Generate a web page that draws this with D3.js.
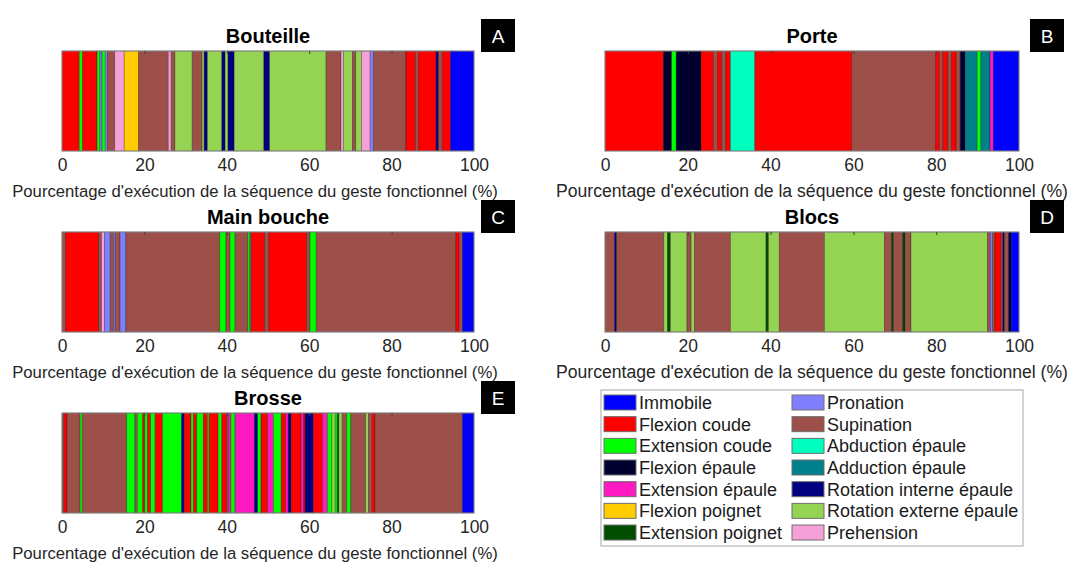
<!DOCTYPE html>
<html>
<head>
<meta charset="utf-8">
<script src="https://cdn.jsdelivr.net/npm/d3@7"></script>
<style>
  body { margin: 0; background: #fff; }
  text { font-family: "Liberation Sans", Arial, sans-serif; }
</style>
</head>
<body>
<div id="chart"></div>
<script>
// movement categories (legend order) and their colours
const categories = ["Immobile", "Flexion coude", "Extension coude", "Flexion épaule", "Extension épaule",
  "Flexion poignet", "Extension poignet", "Pronation", "Supination", "Abduction épaule",
  "Adduction épaule", "Rotation interne épaule", "Rotation externe épaule", "Prehension"];
const catColors = ["#0000ff", "#ff0000", "#00ff00", "#00002e", "#ff19c0",
  "#ffcc00", "#004d00", "#8080ff", "#9c5049", "#00ffbf",
  "#00808a", "#000080", "#95d352", "#f5a0d9"];

const tickValues = [0, 20, 40, 60, 80, 100];

// each sequence: [category index, end of segment in %]
const bouteille = [[1,4.2],[2,5.0],[1,8.5],[2,9.2],[7,9.7],[2,10.5],[7,11.0],[8,12.8],[13,15.1],[5,18.6],
  [8,25.8],[13,26.5],[8,27.4],[12,31.6],[8,34.0],[12,34.5],[11,35.3],[12,38.8],[11,39.6],[12,40.3],
  [11,41.8],[12,49.0],[11,50.4],[12,64.1],[8,67.7],[13,68.3],[12,70.5],[8,71.3],[12,72.7],[13,74.8],
  [7,75.6],[8,83.5],[1,85.8],[8,86.5],[1,90.8],[11,91.4],[8,92.3],[1,94.3],[0,100]];

const porte = [[1,14.1],[3,16.1],[2,17.2],[3,23.2],[1,26.2],[8,27.2],[1,28.2],[8,29.2],[1,30.3],[9,36.2],
  [1,59.6],[8,79.8],[1,80.8],[8,81.6],[1,82.8],[8,83.7],[1,84.8],[8,85.8],[3,87.0],[10,89.9],
  [2,90.8],[10,93.0],[4,93.8],[0,100]];

const mainBouche = [[8,0.9],[1,8.9],[8,9.6],[13,10.3],[7,11.7],[8,12.5],[7,12.9],[8,14.1],[7,15.5],[8,38.3],
  [2,39.8],[8,40.8],[2,42.0],[8,45.1],[2,45.6],[8,46.0],[1,49.2],[8,50.2],[1,59.4],[8,60.2],
  [2,61.7],[8,95.6],[1,96.4],[8,97.2],[0,100]];

const blocs = [[8,2.3],[11,2.8],[8,14.2],[12,15.1],[6,15.8],[12,19.8],[8,20.8],[12,21.6],[8,30.3],[12,38.9],
  [6,39.5],[12,42.1],[8,53.0],[12,67.5],[8,69.2],[6,69.7],[8,71.9],[6,72.5],[8,73.9],[12,92.4],
  [8,93.1],[7,93.6],[8,94.2],[1,95.7],[8,96.1],[11,96.5],[8,97.5],[3,98.1],[0,100]];

const brosse = [[8,0.5],[1,1.2],[8,4.4],[2,4.9],[8,15.7],[2,17.7],[8,18.3],[2,19.6],[1,20.1],[2,20.8],
  [1,21.5],[2,22.6],[1,24.4],[2,29.0],[11,29.7],[1,31.3],[2,31.9],[1,32.7],[2,34.3],[1,35.3],
  [2,35.7],[1,37.9],[2,38.8],[1,40.0],[8,40.4],[4,41.0],[2,42.0],[4,46.7],[11,47.5],[2,48.3],
  [1,49.9],[4,51.3],[2,53.2],[1,54.3],[4,54.9],[11,55.6],[1,58.0],[4,58.6],[1,59.0],[11,61.0],
  [1,63.2],[4,64.4],[2,65.5],[12,66.3],[2,66.8],[6,67.2],[12,68.0],[8,69.1],[2,70.1],[8,73.7],
  [12,74.4],[8,75.3],[1,76.0],[8,97.2],[0,100]];

const panels = [
  {title: "Bouteille",   letter: "A", seq: bouteille,  x0: 62,  x1: 474,  top: 51,  labelX: 255, labelSize: 16.7, boxX: 481},
  {title: "Porte",       letter: "B", seq: porte,      x0: 605, x1: 1019, top: 51,  labelX: 812, labelSize: 17.6, boxX: 1030},
  {title: "Main bouche", letter: "C", seq: mainBouche, x0: 62,  x1: 474,  top: 232, labelX: 255, labelSize: 16.7, boxX: 481},
  {title: "Blocs",       letter: "D", seq: blocs,      x0: 605, x1: 1019, top: 232, labelX: 812, labelSize: 17.6, boxX: 1030},
  {title: "Brosse",      letter: "E", seq: brosse,     x0: 62,  x1: 474,  top: 413, labelX: 255, labelSize: 16.7, boxX: 481}
];

const W = 1073, H = 564, barH = 100;
const svg = d3.select("#chart").append("svg")
    .attr("width", W)
    .attr("height", H);

panels.forEach(function (p) {
  const x = d3.scaleLinear().domain([0, 100]).range([p.x0, p.x1]);
  const g = svg.append("g");

  // turn [cat, end] into segments with start/end
  let prev = 0;
  const segs = p.seq.map(function (d) {
    const s = {cat: d[0], start: prev, end: d[1]};
    prev = d[1];
    return s;
  });

  g.selectAll("rect.seg")
    .data(segs)
    .join("rect")
    .attr("class", "seg")
    .attr("x", d => x(d.start))
    .attr("y", p.top)
    .attr("width", d => x(d.end) - x(d.start))
    .attr("height", barH)
    .attr("fill", d => catColors[d.cat])
    .attr("stroke", "#000")
    .attr("stroke-opacity", 0.4)
    .attr("stroke-width", 0.7);

  // box around the bar
  g.append("rect")
    .attr("x", p.x0).attr("y", p.top)
    .attr("width", p.x1 - p.x0).attr("height", barH)
    .attr("fill", "none")
    .attr("stroke", "#8c8c8c")
    .attr("stroke-width", 1);

  // small inward ticks at the top
  g.append("g")
    .attr("transform", `translate(0,${p.top})`)
    .call(d3.axisBottom(x).tickValues(tickValues.slice(1, -1)).tickSize(3).tickFormat(""))
    .call(a => a.select(".domain").remove())
    .selectAll("line").attr("stroke", "#444");

  // tick labels
  const ax = g.append("g")
    .attr("transform", `translate(0,${p.top + barH})`)
    .call(d3.axisBottom(x).tickValues(tickValues).tickSize(0).tickPadding(8));
  ax.select(".domain").remove();
  ax.selectAll("text")
    .attr("fill", "#262626")
    .style("font-size", "17.5px")
    .style("font-family", "'Liberation Sans', Arial, sans-serif");

  g.append("text")
    .attr("x", p.labelX)
    .attr("y", p.top + barH + 46)
    .attr("text-anchor", "middle")
    .attr("fill", "#262626")
    .style("font-size", p.labelSize + "px")
    .text("Pourcentage d'exécution de la séquence du geste fonctionnel (%)");

  g.append("text")
    .attr("x", (p.x0 + p.x1) / 2)
    .attr("y", p.top - 8)
    .attr("text-anchor", "middle")
    .attr("fill", "#000")
    .style("font-size", "20px")
    .style("font-weight", "bold")
    .text(p.title);

  // panel letter
  g.append("rect")
    .attr("x", p.boxX).attr("y", p.top - 32)
    .attr("width", 34).attr("height", 33)
    .attr("fill", "#000");
  g.append("text")
    .attr("x", p.boxX + 17).attr("y", p.top - 8)
    .attr("text-anchor", "middle")
    .attr("fill", "#fff")
    .style("font-size", "19px")
    .text(p.letter);
});

// legend
const leg = svg.append("g");
leg.append("rect")
  .attr("x", 601).attr("y", 390)
  .attr("width", 422).attr("height", 156)
  .attr("fill", "#fff")
  .attr("stroke", "#a6a6a6");

const rowH = 21.67;
const items = leg.selectAll("g.item")
  .data(categories)
  .join("g")
  .attr("class", "item")
  .attr("transform", (d, i) => `translate(${i < 7 ? 604 : 792},${395 + (i % 7) * rowH})`);

items.append("rect")
  .attr("width", 32).attr("height", 15)
  .attr("fill", (d, i) => catColors[i])
  .attr("stroke", "#6e6e6e")
  .attr("stroke-width", 1);

items.append("text")
  .attr("x", 35).attr("y", 14)
  .attr("fill", "#1a1a1a")
  .style("font-size", "18px")
  .text(d => d);
</script>
</body>
</html>
